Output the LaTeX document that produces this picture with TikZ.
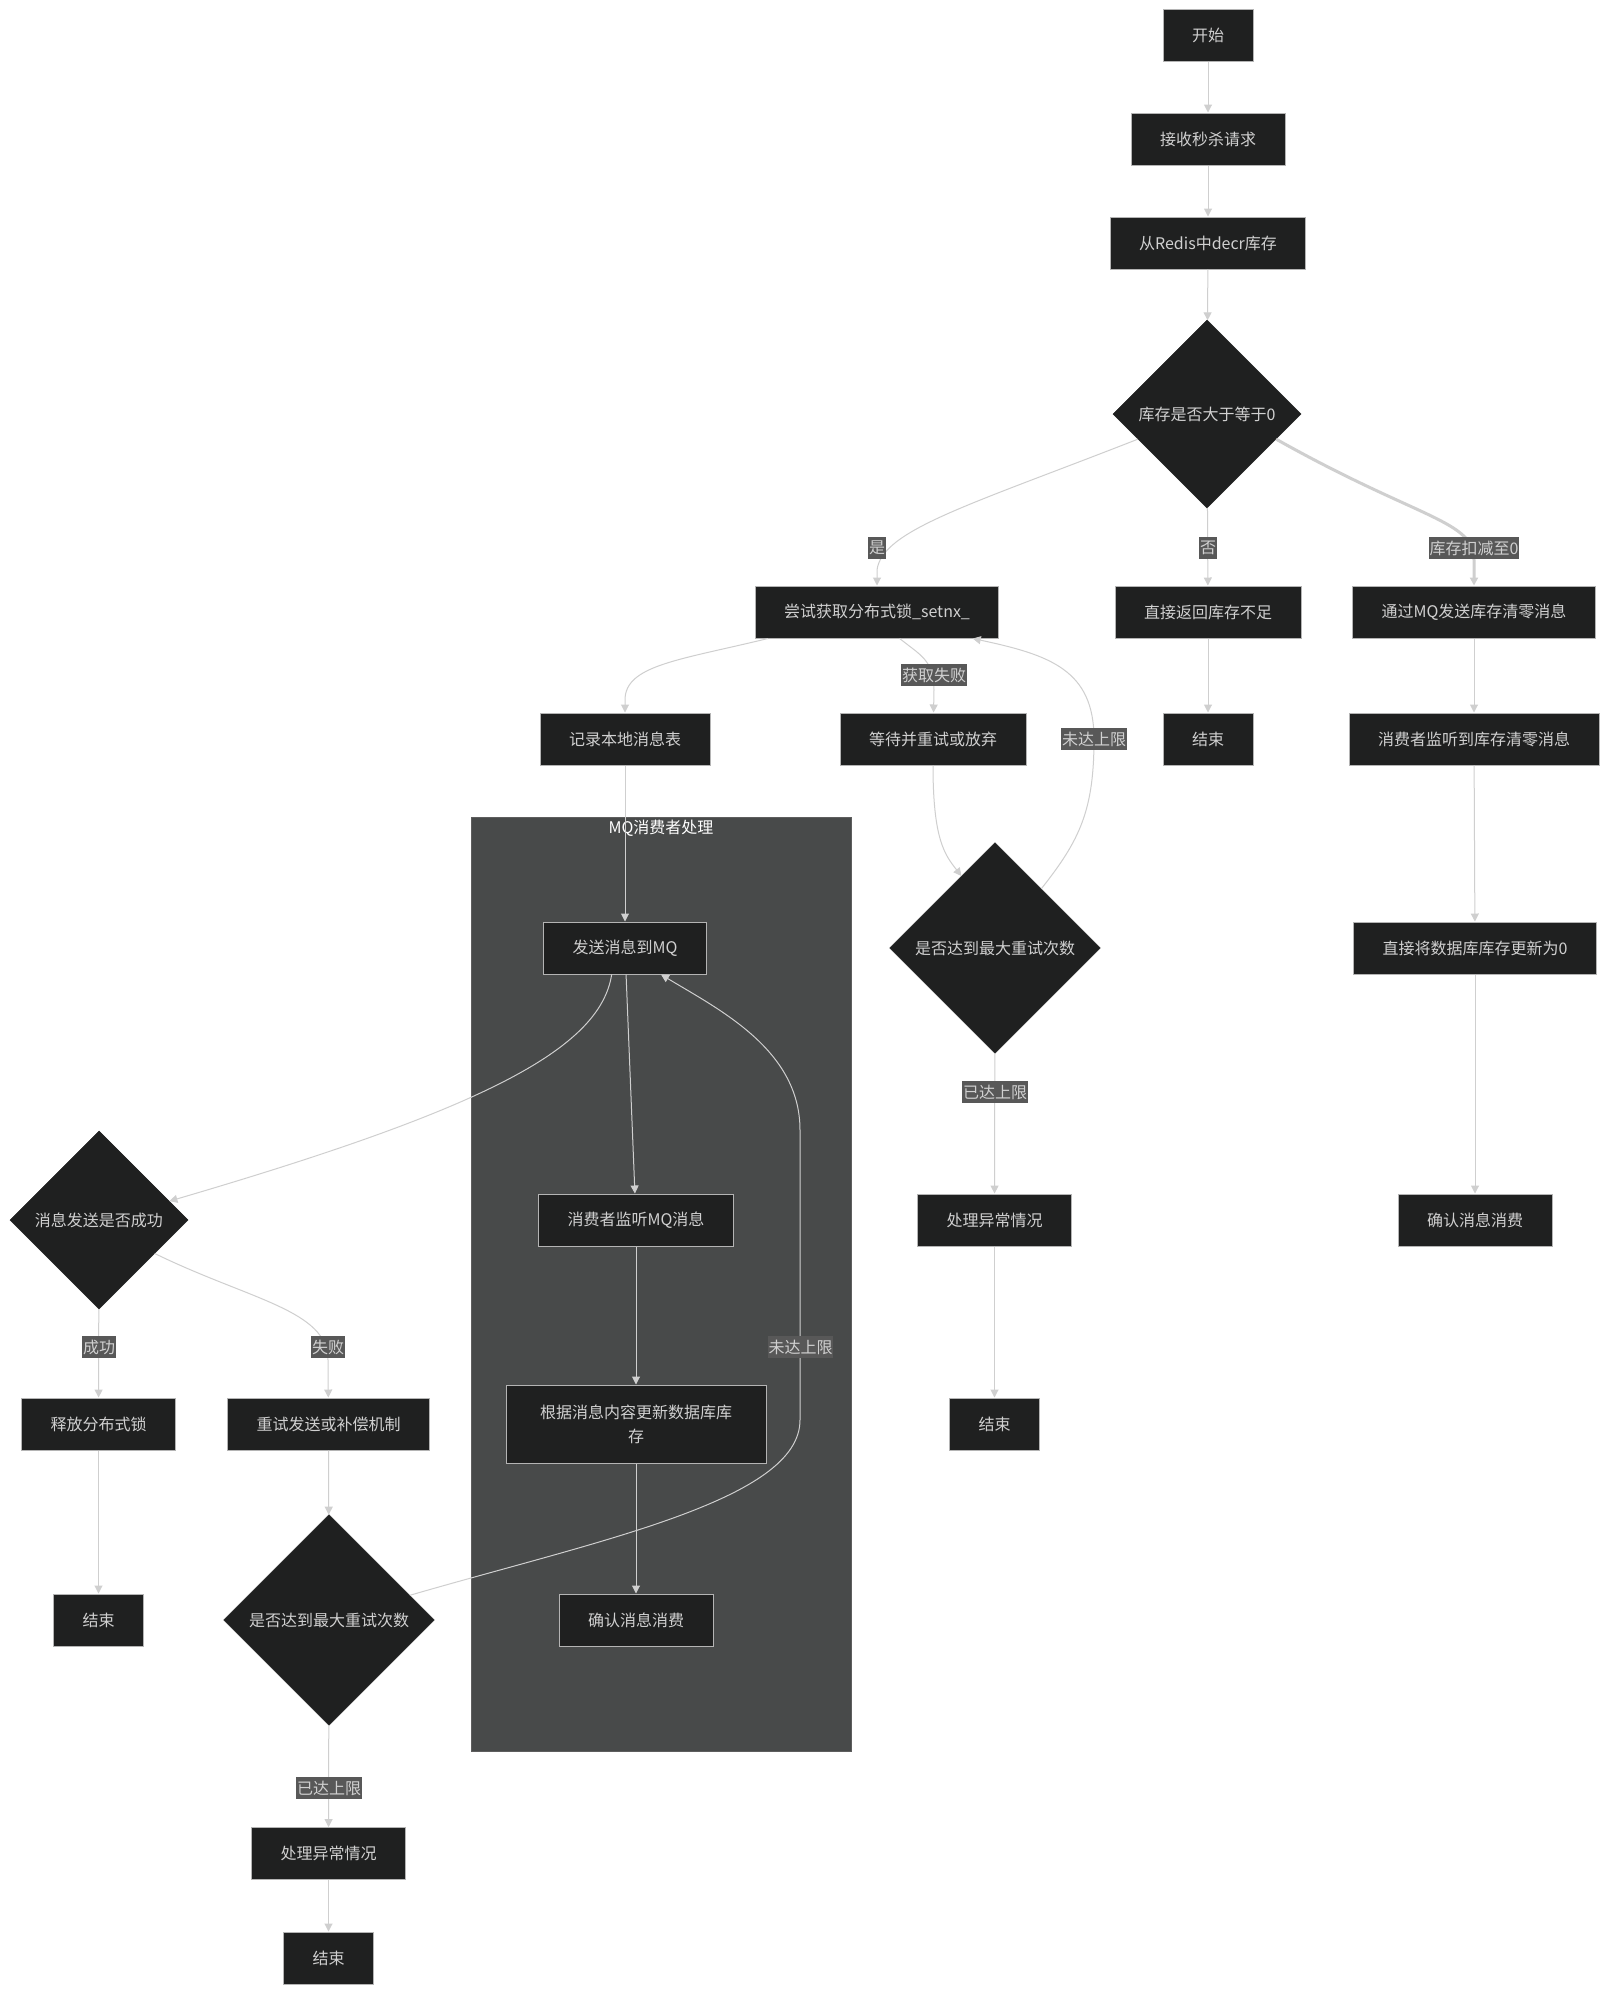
\documentclass[tikz,border=0pt]{standalone}
\usepackage{fontspec}
\setmainfont{Noto Sans CJK SC}
\usetikzlibrary{shapes.geometric,arrows.meta}

\definecolor{nodefill}{HTML}{1F2020}
\definecolor{nodeline}{HTML}{B4B4B4}
\definecolor{nodetext}{HTML}{D0D0D0}
\definecolor{flowline}{HTML}{CFCFCF}
\definecolor{tagfill}{HTML}{585858}
\definecolor{groupfill}{HTML}{484A4A}
\definecolor{groupline}{HTML}{5E5E5E}

\tikzset{
  stepbox/.style={rectangle, fill=nodefill, draw=nodeline, line width=0.75pt,
    text=nodetext, minimum height=39pt, inner xsep=21.75pt,
    font=\fontsize{12pt}{18pt}\selectfont},
  decision/.style={diamond, fill=nodefill, draw=nodefill, inner sep=0pt,
    text=nodetext, font=\fontsize{12pt}{18pt}\selectfont},
  flow/.style={draw=flowline, line width=0.75pt,
    -{Triangle[length=6pt,width=6pt]}},
  tag/.style={fill=tagfill, text=nodetext, inner xsep=0.5pt, inner ysep=0pt,
    minimum height=17pt, font=\fontsize{12pt}{18pt}\selectfont},
}

\begin{document}
\begin{tikzpicture}[x=0.75pt, y=-0.75pt]
  % 画布，单位为像素
  \fill[white] (0,0) rectangle (1609,1993);
  \useasboundingbox (0,0) rectangle (1609,1993);

  % MQ消费者处理 子图
  \filldraw[fill=groupfill, draw=groupline, line width=0.75pt]
    (471.5,817) rectangle (851.5,1751);
  \node[text=white, font=\fontsize{12pt}{18pt}\selectfont] (grouptitle) at (661,828) {MQ消费者处理};

  % 主流程
  \node[stepbox] (start) at (1208,35)  {开始};
  \node[stepbox] (recv)  at (1208,139) {接收秒杀请求};
  \node[stepbox] (decr)  at (1208,243) {从Redis中decr库存};
  \node[decision, minimum width=141pt, minimum height=141pt] (check) at (1207,414) {库存是否大于等于0};

  \node[stepbox] (lock)    at (877,612)  {尝试获取分布式锁\_setnx\_};
  \node[stepbox] (noStock) at (1208,612) {直接返回库存不足};
  \node[stepbox] (mqZero)  at (1474,612) {通过MQ发送库存清零消息};

  \node[stepbox] (localMsg)   at (625,739)  {记录本地消息表};
  \node[stepbox] (wait)       at (933,739)  {等待并重试或放弃};
  \node[stepbox] (endA)       at (1208,739) {结束};
  \node[stepbox] (zeroListen) at (1474,739) {消费者监听到库存清零消息};

  \node[stepbox] (send) at (625,948) {发送消息到MQ};
  \node[decision, minimum width=158pt, minimum height=158pt] (retryA) at (995,948) {是否达到最大重试次数};
  \node[stepbox] (setZero) at (1475,948) {直接将数据库库存更新为0};

  \node[decision, minimum width=133.5pt, minimum height=133.5pt] (msgOk) at (99,1220) {消息发送是否成功};
  \node[stepbox] (listen)  at (636,1220)   {消费者监听MQ消息};
  \node[stepbox] (exceptA) at (994.5,1220) {处理异常情况};
  \node[stepbox] (ackA)    at (1475,1220)  {确认消息消费};

  \node[stepbox] (release)   at (98.5,1424)  {释放分布式锁};
  \node[stepbox] (retrySend) at (328.5,1424) {重试发送或补偿机制};
  \node[stepbox, minimum width=195pt, minimum height=58.5pt, align=center] (update) at (636,1424) {根据消息内容更新数据库库\\存};
  \node[stepbox] (endB) at (994.5,1424) {结束};

  \node[stepbox] (endC) at (98.5,1620) {结束};
  \node[decision, minimum width=158pt, minimum height=158pt] (retryB) at (329,1620) {是否达到最大重试次数};
  \node[stepbox] (ackB) at (636,1620) {确认消息消费};

  \node[stepbox] (exceptB) at (328.5,1853.6) {处理异常情况};
  \node[stepbox] (endD)    at (328.5,1958)   {结束};

  % 连线
  \draw[flow] (start) -- (recv);
  \draw[flow] (recv) -- (decr);
  \draw[flow] (decr) -- (check);
  \draw[flow] (check.200) .. controls (970,505) and (882,530) .. (877,570) -- (lock);
  \draw[flow] (check) -- (noStock);
  \draw[flow, line width=2.25pt] (check.-20) .. controls (1420,520) and (1474,520) .. (1474,560) -- (mqZero);

  \draw[flow] ([xshift=10pt]lock.south west) .. controls (680,660) and (625,665) .. (625,700) -- (localMsg);
  \draw[flow] ([xshift=17pt]lock.south) .. controls (920,655) and (934,660) .. (934,690) -- (wait);
  \draw[flow] (wait) .. controls (933,840) and (945,855) .. (retryA.115);
  \draw[flow] (retryA.52) .. controls (1080,840) and (1094,810) .. (1094,739)
    .. controls (1094,670) and (1050,655) .. ([xshift=-20pt]lock.south east);
  \draw[flow] (noStock) -- (endA);
  \draw[flow] (mqZero) -- (zeroListen);
  \draw[flow] (zeroListen) -- (setZero);
  \draw[flow] (setZero) -- (ackA);

  \draw[flow] (localMsg) -- (send);
  \draw[flow] ([xshift=-10pt]send.south) .. controls (600,1050) and (480,1110) .. (msgOk.15);
  \draw[flow] (send) -- (listen);
  \draw[flow] (retryB.17) .. controls (600,1540) and (800,1500) .. (800,1420) -- (800,1130)
    .. controls (800,1050) and (720,1010) .. ([xshift=27pt]send.south);
  \draw[flow] (retryA) -- (exceptA);
  \draw[flow] (exceptA) -- (endB);

  \draw[flow] (msgOk) -- (release);
  \draw[flow] (msgOk.-31) .. controls (250,1300) and (328,1310) .. (328,1360) -- (retrySend);
  \draw[flow] (listen) -- (update);
  \draw[flow] (update) -- (ackB);
  \draw[flow] (release) -- (endC);
  \draw[flow] (retrySend) -- (retryB);
  \draw[flow] (retryB) -- (exceptB);
  \draw[flow] (exceptB) -- (endD);

  % 连线标签
  \node[tag] (tagYes)    at (877,548)    {是};
  \node[tag] (tagNo)     at (1208,548)   {否};
  \node[tag] (tagZero)   at (1474,548)   {库存扣减至0};
  \node[tag] (tagFail)   at (934,675)    {获取失败};
  \node[tag] (tagRetryA) at (1094,739)   {未达上限};
  \node[tag] (tagLimitA) at (995,1092)   {已达上限};
  \node[tag] (tagOk)     at (99,1347)    {成功};
  \node[tag] (tagSendNo) at (328,1347)   {失败};
  \node[tag] (tagRetryB) at (800.5,1347) {未达上限};
  \node[tag] (tagLimitB) at (329,1788)   {已达上限};
\end{tikzpicture}
\end{document}
